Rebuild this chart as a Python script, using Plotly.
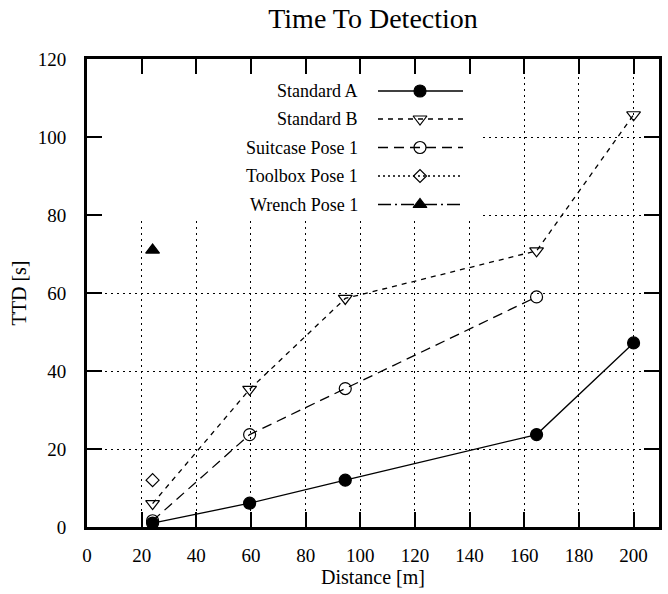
import plotly.graph_objects as go

# ---------------- data ----------------
distance = [24, 59.5, 94.5, 164.5, 200]
standard_a = [1.0, 6.1, 12.0, 23.7, 47.2]
standard_b = [6.0, 35.3, 58.6, 70.8, 105.7]
suitcase_x = [24, 59.5, 94.5, 164.5]
suitcase_y = [1.6, 23.7, 35.5, 59.0]
toolbox_x = [24]
toolbox_y = [12.0]
wrench_x = [24]
wrench_y = [71.0]

x_ticks = [0, 20, 40, 60, 80, 100, 120, 140, 160, 180, 200]
y_ticks = [0, 20, 40, 60, 80, 100, 120]

names = ["Standard A", "Standard B", "Suitcase Pose 1", "Toolbox Pose 1", "Wrench Pose 1"]

FONT = "Liberation Serif"
LW = 1.3
styles = [
    dict(dash="solid", symbol="circle", size=12),
    dict(dash="5px,5px", symbol="triangle-down-open", size=12),
    dict(dash="10px,6px", symbol="circle-open", size=12),
    dict(dash="2px,3px", symbol="diamond-open", size=10),
    dict(dash="13px,4px,2px,4px", symbol="triangle-up", size=12),
]
series = [
    (distance, standard_a),
    (distance, standard_b),
    (suitcase_x, suitcase_y),
    (toolbox_x, toolbox_y),
    (wrench_x, wrench_y),
]

W, H = 668, 594
X_MAX, Y_MAX = 209.3, 120
L, R, T, B = 87, 659, 59, 527          # plot area in page pixels

fig = go.Figure()

for (xs, ys), st, nm in zip(series, styles, names):
    fig.add_trace(go.Scatter(
        x=xs, y=ys, name=nm, mode="lines+markers",
        line=dict(color="black", width=LW, dash=st["dash"]),
        marker=dict(symbol=st["symbol"], size=st["size"], color="black",
                    line=dict(color="black", width=1.2)),
        showlegend=False,
    ))

# ---------------- custom key (gnuplot style) on pixel-unit overlay axes ----------------
key_rows = [91, 119, 147.5, 176, 204.5]
key_x0, key_x1, key_mark, key_text = 378, 463, 420, 360
for row, st, nm in zip(key_rows, styles, names):
    fig.add_trace(go.Scatter(
        x=[key_x0, key_x1], y=[row, row], xaxis="x2", yaxis="y2",
        mode="lines", line=dict(color="black", width=LW, dash=st["dash"]),
        showlegend=False, hoverinfo="skip"))
    fig.add_trace(go.Scatter(
        x=[key_mark], y=[row], xaxis="x2", yaxis="y2", mode="markers",
        marker=dict(symbol=st["symbol"], size=st["size"], color="black",
                    line=dict(color="black", width=1.2)),
        showlegend=False, hoverinfo="skip"))
    fig.add_annotation(x=key_text, y=row, xref="x2", yref="y2", text=nm,
                       showarrow=False, xanchor="right", yanchor="middle",
                       font=dict(family=FONT, size=18, color="black"))

# white key box hiding the grid (pixel box converted to main-axis units)
box_right_px, box_bottom_px = 479, 219
fig.add_shape(type="rect", xref="x", yref="y",
              x0=0, x1=(box_right_px - L) / (R - L) * X_MAX,
              y0=Y_MAX - (box_bottom_px - T) / (B - T) * Y_MAX, y1=Y_MAX,
              fillcolor="white", line=dict(width=0), layer="between")

axis_common = dict(
    showline=True, linecolor="black", linewidth=3, mirror="allticks",
    ticks="inside", ticklen=15, tickwidth=2, tickcolor="black",
    showgrid=True, gridcolor="black", gridwidth=1, griddash="2px,4px",
    zeroline=False, automargin=False,
    tickfont=dict(family=FONT, size=19, color="black"),
)

fig.update_layout(
    width=W, height=H,
    margin=dict(l=L, r=W - R, t=T, b=H - B),
    paper_bgcolor="white", plot_bgcolor="white",
    title=dict(text="Time To Detection", x=0.5, xref="paper",
               y=1 - 18 / H,
               yref="container", yanchor="middle", xanchor="center",
               font=dict(family=FONT, size=28, color="black")),
    xaxis=dict(range=[0, X_MAX], tickvals=x_ticks, ticklabelstandoff=9,
               title=dict(text="Distance [m]", standoff=5,
                          font=dict(family=FONT, size=20, color="black")),
               **axis_common),
    yaxis=dict(range=[0, Y_MAX], tickvals=y_ticks, ticklabelstandoff=14,
               title=dict(text="TTD [s]", standoff=6,
                          font=dict(family=FONT, size=20, color="black")),
               **axis_common),
    xaxis2=dict(range=[L, R], overlaying="x", visible=False, fixedrange=True),
    yaxis2=dict(range=[B, T], overlaying="y", visible=False, fixedrange=True),
)

fig.write_html("out.html",
               config={"displayModeBar": False, "staticPlot": True},
               post_script="document.body.style.margin='0px';"
                           "document.body.style.overflow='hidden';")
